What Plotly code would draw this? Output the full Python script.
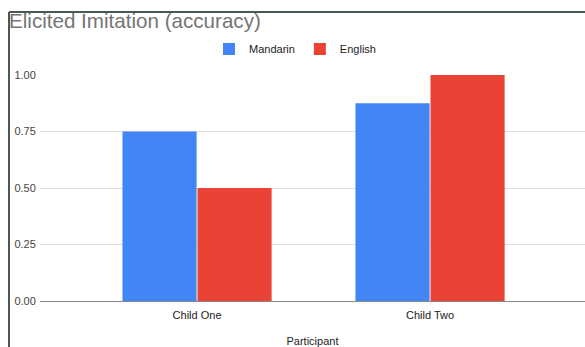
import plotly.graph_objects as go

categories = ["Child One", "Child Two"]
mandarin = [0.75, 0.875]
english = [0.5, 1.0]
series_names = ["Mandarin", "English"]
y_ticks = [0, 0.25, 0.5, 0.75, 1.0]
y_tick_labels = ["0.00", "0.25", "0.50", "0.75", "1.00"]

W, H = 585, 347
L, R, T, B = 40, 0, 75, 46

fig = go.Figure()
fig.add_trace(go.Bar(x=categories, y=mandarin, name=series_names[0],
                     marker=dict(color="#4285F4", line=dict(width=0))))
fig.add_trace(go.Bar(x=categories, y=english, name=series_names[1],
                     marker=dict(color="#EA4335", line=dict(width=0))))

pw = W - L - R
ph = H - T - B
def px_x(x):
    return (x - L) / pw
def px_y(y):
    return (H - B - y) / ph

fig.update_layout(
    width=W, height=H,
    margin=dict(l=L, r=R, t=T, b=B, pad=0, autoexpand=False),
    paper_bgcolor="white", plot_bgcolor="white",
    font=dict(family="Arial, Liberation Sans, sans-serif", size=11, color="#222222"),
    barmode="group", bargap=0.356, bargroupgap=0.012,
    title=dict(text="Elicited Imitation (accuracy)", x=9/W, xanchor="left", xref="container",
               y=1 - 21/H, yanchor="middle", yref="container",
               font=dict(size=20.6, color="#757575")),
    legend=dict(orientation="h", x=px_x(295), xanchor="center", y=px_y(49), yanchor="middle",
                font=dict(size=11, color="#222222"), itemwidth=30, traceorder="normal"),
    xaxis=dict(range=[-0.674, 1.665], showgrid=False, zeroline=False, showline=False,
               automargin=False,
               ticks="outside", ticklen=4, tickcolor="rgba(0,0,0,0)",
               tickfont=dict(size=11, color="#222222"),
               title=dict(text="Participant", font=dict(size=11, color="#222222"), standoff=26)),
    yaxis=dict(range=[0, 1], tickvals=y_ticks, ticktext=y_tick_labels, automargin=False,
               showgrid=True, gridcolor="#e0e0e0", gridwidth=1,
               zeroline=True, zerolinecolor="#8a8a8a", zerolinewidth=1,
               showline=False, ticks="outside", ticklen=1, tickcolor="rgba(0,0,0,0)",
               tickfont=dict(size=11, color="#444444")),
    showlegend=True,
)

border = "#4a5853"
fig.add_shape(type="line", xref="paper", yref="paper", x0=px_x(9), x1=px_x(W + 5),
              y0=px_y(12), y1=px_y(12), line=dict(color=border, width=2))
fig.add_shape(type="line", xref="paper", yref="paper", x0=px_x(9), x1=px_x(9),
              y0=px_y(12), y1=px_y(H + 5), line=dict(color=border, width=2))

fig.write_html("out.html")
